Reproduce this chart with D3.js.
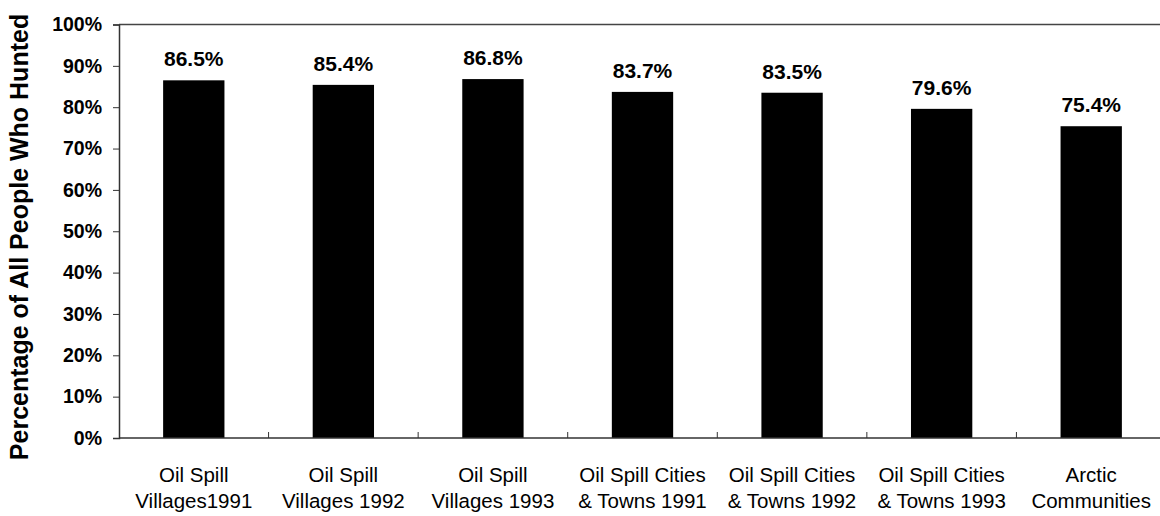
<!DOCTYPE html>
<html>
<head>
<meta charset="utf-8">
<script src="https://cdn.jsdelivr.net/npm/d3@7"></script>
<style>
  body { margin: 0; background: #fff; }
  svg text { font-family: Arial, "Liberation Sans", sans-serif; }
</style>
</head>
<body>
<div id="graph"></div>
<script>
// categories (two lines each) and the percentage of people who hunted
var categories = [
    ['Oil Spill', 'Villages1991'],
    ['Oil Spill', 'Villages 1992'],
    ['Oil Spill', 'Villages 1993'],
    ['Oil Spill Cities', '& Towns 1991'],
    ['Oil Spill Cities', '& Towns 1992'],
    ['Oil Spill Cities', '& Towns 1993'],
    ['Arctic', 'Communities']
];
var values = [86.5, 85.4, 86.8, 83.7, 83.5, 79.6, 75.4];
var yTicks = [0, 10, 20, 30, 40, 50, 60, 70, 80, 90, 100];

var width = 1160;
var height = 516;
var plotLeft = 119, plotRight = 1166, plotTop = 24.5, plotBottom = 438;

var svg = d3.select('#graph')
    .append('svg')
    .attr('width', width)
    .attr('height', height);

var keys = categories.map(function(c, i) { return i; });

var xScale = d3.scaleBand()
    .domain(keys)
    .range([plotLeft, plotRight])
    .paddingInner(0.59)
    .paddingOuter(0.295);

var yScale = d3.scaleLinear()
    .domain([0, 100])
    .range([plotBottom, plotTop]);

// top border line
svg.append('line')
    .attr('x1', plotLeft).attr('x2', width)
    .attr('y1', plotTop).attr('y2', plotTop)
    .attr('stroke', '#444')
    .attr('stroke-width', 1.5);

// bars
svg.append('g')
    .selectAll('rect')
    .data(values)
    .enter()
    .append('rect')
    .attr('x', function(d, i) { return xScale(i); })
    .attr('y', function(d) { return yScale(d); })
    .attr('width', xScale.bandwidth())
    .attr('height', function(d) { return plotBottom - yScale(d); })
    .attr('fill', '#000');

// value labels
svg.append('g')
    .selectAll('text')
    .data(values)
    .enter()
    .append('text')
    .attr('x', function(d, i) { return xScale(i) + xScale.bandwidth() / 2; })
    .attr('y', function(d) { return yScale(d) - 14; })
    .attr('text-anchor', 'middle')
    .attr('font-size', 21)
    .attr('font-weight', 'bold')
    .text(function(d) { return d.toFixed(1) + '%'; });

// y axis
var yAxis = svg.append('g')
    .attr('transform', 'translate(' + plotLeft + ',0)')
    .call(d3.axisLeft(yScale)
        .tickValues(yTicks)
        .tickSize(6)
        .tickPadding(11)
        .tickFormat(function(d) { return d + '%'; }));
yAxis.select('.domain').attr('stroke', '#333').attr('stroke-width', 1.5);
yAxis.selectAll('.tick line').attr('stroke', '#333');
yAxis.selectAll('.tick text')
    .attr('font-size', 19.5)
    .attr('font-weight', 'bold')
    .attr('fill', '#000')
    .attr('font-family', 'Arial, "Liberation Sans", sans-serif');

// x axis baseline and separators between categories (pointing up)
var step = xScale.step();
var xBase = svg.append('g');
xBase.append('line')
    .attr('x1', plotLeft).attr('x2', width)
    .attr('y1', plotBottom).attr('y2', plotBottom)
    .attr('stroke', '#333')
    .attr('stroke-width', 1.5);
xBase.selectAll('.sep')
    .data(keys.slice(1))
    .enter()
    .append('line')
    .attr('class', 'sep')
    .attr('x1', function(i) { return xScale(i) - xScale.paddingInner() * step / 2; })
    .attr('x2', function(i) { return xScale(i) - xScale.paddingInner() * step / 2; })
    .attr('y1', plotBottom).attr('y2', plotBottom - 6)
    .attr('stroke', '#333');

// category labels
var catLabels = svg.append('g')
    .selectAll('text')
    .data(categories)
    .enter()
    .append('text')
    .attr('text-anchor', 'middle')
    .attr('font-size', 20.5)
    .attr('fill', '#000')
    .attr('transform', function(d, i) {
        return 'translate(' + (xScale(i) + xScale.bandwidth() / 2) + ',481.5)';
    });
catLabels.selectAll('tspan')
    .data(function(d) { return d; })
    .enter()
    .append('tspan')
    .attr('x', 0)
    .attr('dy', function(d, j) { return j === 0 ? 0 : 26.5; })
    .text(function(d) { return d; });

// y axis title
svg.append('text')
    .attr('transform', 'translate(27.5,237) rotate(-90)')
    .attr('text-anchor', 'middle')
    .attr('font-size', 25)
    .attr('font-weight', 'bold')
    .text('Percentage of All People Who Hunted');
</script>
</body>
</html>
